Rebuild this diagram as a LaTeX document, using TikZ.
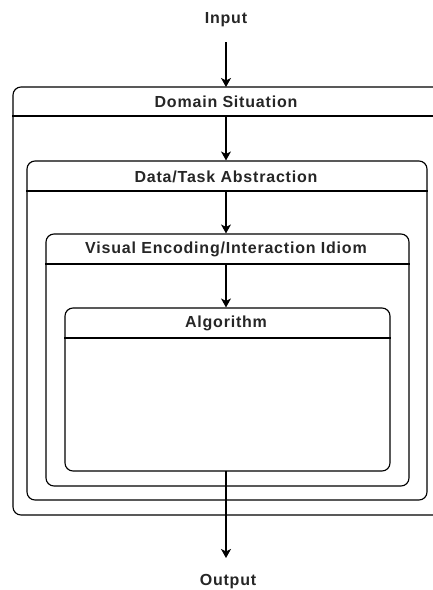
\documentclass[tikz,border=0pt]{standalone}
\usepackage{fontspec}
\setmainfont{Liberation Sans}[LetterSpace=5]
\usetikzlibrary{arrows.meta,calc}
\tikzset{
  box/.style={draw=black, line width=1.15pt, rounded corners=8pt, fill=none, inner sep=0pt},
  ttl/.style={font=\fontsize{16}{19}\selectfont\bfseries, inner sep=0pt, text=black!85},
  sep/.style={draw=black, line width=1.15pt},
  arr/.style={draw=black, line width=1.15pt, -{Stealth[length=9pt,width=10pt,inset=2.5pt]}},
}
\begin{document}
\begin{tikzpicture}[x=1pt,y=-1pt]
\useasboundingbox (0,0) rectangle (433,590);
\clip (0,0) rectangle (433,590);
\fill[white] (0,0) rectangle (433,590);
% boxes (center, width, height)
\node[box, minimum width=428pt, minimum height=428pt] (domain) at (227,301) {};
\node[box, minimum width=400pt, minimum height=339pt] (data) at (227,330.5) {};
\node[box, minimum width=363pt, minimum height=252pt] (visual) at (227.5,360) {};
\node[box, minimum width=325pt, minimum height=163pt] (algo) at (227.5,389.5) {};
% header separators
\coordinate (dh) at (226,116);
\coordinate (th) at (226,191);
\coordinate (vh) at (226,264);
\coordinate (ah) at (226,338);
\draw[sep] (domain.west |- dh) -- (domain.east |- dh);
\draw[sep] (data.west |- th) -- (data.east |- th);
\draw[sep] (visual.west |- vh) -- (visual.east |- vh);
\draw[sep] (algo.west |- ah) -- (algo.east |- ah);
% titles
\node[ttl] (domaint) at (226,102) {Domain Situation};
\node[ttl] (datat) at (226,176.5) {Data/Task Abstraction};
\node[ttl] (visualt) at (226,249.5) {Visual Encoding/Interaction Idiom};
\node[ttl] (algot) at (226,323.5) {Algorithm};
% input / output
\node[ttl] (input) at (226,20) {Input};
\node[ttl] (output) at (228,582) {Output};
\coordinate (inend) at (226,87);
\coordinate (ab) at (226,471);
\coordinate (outend) at (226,558);
% arrows
\draw[arr, shorten <=15pt] (input.south) -- (inend);
\draw[arr] (dh) -- (dh |- data.north);
\draw[arr] (th) -- (th |- visual.north);
\draw[arr] (vh) -- (vh |- algo.north);
\draw[arr] (ab) -- (outend);
\end{tikzpicture}
\end{document}
